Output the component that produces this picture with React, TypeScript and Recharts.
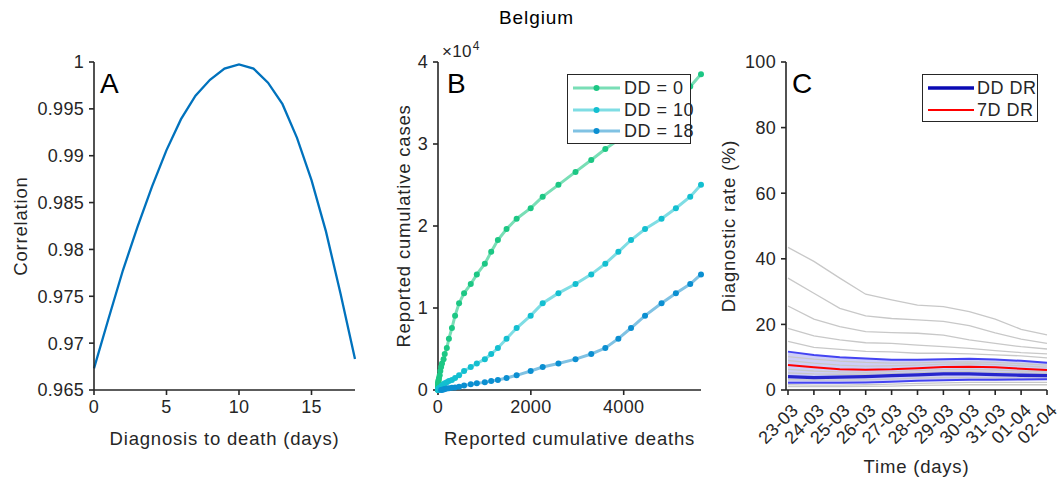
import React from "react";
import { LineChart, Line, ComposedChart, Area, XAxis, YAxis, Legend, Label } from "recharts";

const FONT = '"Liberation Sans", Arial, Helvetica, sans-serif';
const INK = "#262626";

// Panel A: correlation vs diagnosis-to-death delay
const lagDays = [0, 1, 2, 3, 4, 5, 6, 7, 8, 9, 10, 11, 12, 13, 14, 15, 16, 17, 18];
const correlation = [
  0.9673, 0.9726, 0.9778, 0.9824, 0.9867, 0.9906, 0.9939, 0.9964, 0.9981, 0.9993,
  0.99975, 0.9993, 0.9978, 0.9955, 0.9919, 0.9874, 0.9819, 0.9753, 0.9683,
];
const corrTicks = [0.965, 0.97, 0.975, 0.98, 0.985, 0.99, 0.995, 1];

// Panel B: daily cumulative series (chronological)
const cumDeaths = [
  0, 0, 0, 0, 0, 0, 0, 0, 3, 3, 3, 4, 5, 10, 14, 21, 37, 50, 67, 86, 120, 145, 190, 235,
  300, 368, 454, 562, 706, 836, 1009, 1146, 1290, 1477, 1694, 1996, 2255, 2594, 2962, 3301,
  3604, 3885, 4158, 4460, 4815, 5124, 5433, 5665,
];
const cumCases = [
  8, 23, 50, 110, 170, 200, 260, 310, 400, 560, 690, 810, 930, 1090, 1220, 1460, 1790, 2320,
  2810, 3230, 3760, 4390, 5120, 6260, 7560, 9070, 10580, 11810, 12920, 14100, 15400, 16850,
  18290, 19630, 20890, 22170, 23580, 25020, 26600, 28050, 29390, 30500, 31700, 33000, 34400,
  35700, 37000, 38500,
];
const delays = [0, 10, 18];
const delayMarker = ["#1cc784", "#13bfd0", "#0b8fd1"];
const delayLine = ["#79deb6", "#7fdde4", "#80c2e3"];

// Panel C: diagnostic rate
const dates = ["23-03", "24-03", "25-03", "26-03", "27-03", "28-03", "29-03", "30-03", "31-03", "01-04", "02-04"];
const greyRates = [
  [43.5, 39.2, 34.1, 29.2, 27.5, 25.9, 25.4, 23.9, 21.6, 18.5, 16.8],
  [34.1, 29.5, 24.9, 22.6, 21.8, 21.4, 20.9, 19.6, 17.4, 15.5, 14.2],
  [25.6, 21.6, 19.3, 17.8, 17.5, 17.3, 16.7, 15.3, 14.2, 13.2, 12.5],
  [18.8, 16.5, 15.3, 14.4, 14.2, 13.7, 13.2, 12.7, 12.0, 11.4, 11.0],
  [14.8, 13.0, 12.4, 11.8, 11.6, 11.2, 11.2, 11.0, 10.7, 10.4, 9.8],
  [10.2, 9.4, 8.8, 8.4, 8.2, 8.3, 8.5, 8.6, 8.4, 8.0, 7.6],
  [9.0, 8.2, 7.6, 7.3, 7.4, 7.6, 7.9, 8.0, 7.8, 7.4, 7.0],
  [6.3, 5.8, 5.5, 5.4, 5.6, 5.9, 6.2, 6.3, 6.1, 5.8, 5.5],
  [5.2, 4.9, 4.8, 4.8, 5.0, 5.3, 5.5, 5.6, 5.4, 5.2, 5.0],
  [3.2, 3.0, 3.0, 3.1, 3.3, 3.6, 3.8, 3.8, 3.7, 3.6, 3.5],
  [1.6, 1.5, 1.5, 1.6, 1.8, 2.0, 2.2, 2.3, 2.3, 2.3, 2.3],
  [1.0, 1.0, 1.0, 1.1, 1.2, 1.4, 1.5, 1.6, 1.6, 1.6, 1.6],
];
const bandHigh = [11.7, 10.7, 10.0, 9.6, 9.2, 9.2, 9.4, 9.5, 9.3, 8.9, 8.3];
const bandLow = [2.2, 2.2, 2.2, 2.3, 2.5, 2.8, 3.0, 3.1, 3.1, 3.2, 3.3];
const ddRate = [4.1, 3.8, 3.9, 4.1, 4.4, 4.6, 4.9, 4.9, 4.7, 4.5, 4.4];
const sevenDayRate = [7.6, 6.9, 6.3, 6.2, 6.3, 6.6, 7.0, 7.1, 6.9, 6.5, 6.1];

const corrData = lagDays.map((d, i) => ({ lag: d, r: correlation[i] }));

const delaySeries = delays.map((dd) => {
  const pts: { x: number; y: number }[] = [];
  for (let t = dd; t < cumDeaths.length; t++) pts.push({ x: cumDeaths[t], y: cumCases[t - dd] });
  return pts;
});

const rateData = dates.map((d, i) => {
  const row: any = { date: d, band: [bandLow[i], bandHigh[i]], hi: bandHigh[i], lo: bandLow[i], dd: ddRate[i], d7: sevenDayRate[i] };
  greyRates.forEach((g, k) => (row["g" + k] = g[i]));
  return row;
});

const tickStyle = { fontSize: 18, fill: INK, letterSpacing: 0.3 };
const axisStroke = { stroke: INK, strokeWidth: 1.6 };

const yTitle = (text: string, x: number) => (props: any) => {
  const cy = props.viewBox.y + props.viewBox.height / 2;
  return (
    <text x={x} y={cy} transform={`rotate(-90 ${x} ${cy})`} textAnchor="middle" fontSize={18.5} fill={INK} letterSpacing={0.8}>
      {text}
    </text>
  );
};
const xTitle = (text: string, x: number, y: number) => () => (
  <text x={x} y={y} textAnchor="middle" fontSize={18.5} fill={INK} letterSpacing={0.8}>
    {text}
  </text>
);

const DateTick = (props: any) => {
  const { x, y, payload } = props;
  const ax = x + 8;
  const ay = y + 13;
  return (
    <text x={ax} y={ay} transform={`rotate(-45 ${ax} ${ay})`} textAnchor="end" dominantBaseline="middle" fontSize={18} fill={INK} letterSpacing={0.3}>
      {payload.value}
    </text>
  );
};

const rowStyle: React.CSSProperties = { display: "flex", alignItems: "center", height: 21.5, whiteSpace: "nowrap" };
const legendText: React.CSSProperties = { fontSize: 18, color: INK, letterSpacing: 0.5, whiteSpace: "nowrap", lineHeight: "20px" };

const delayLegend = () => (
  <div style={{ width: 124, height: 70, border: `1.6px solid ${INK}`, background: "#fff", boxSizing: "border-box", paddingTop: 2.5 }}>
    {delays.map((dd, i) => (
      <div key={dd} style={rowStyle}>
        <svg width={50} height={10} style={{ marginLeft: 4, flexShrink: 0 }}>
          <line x1={1} y1={5} x2={48} y2={5} stroke={delayLine[i]} strokeWidth={3} />
          <circle cx={24.5} cy={5} r={3} fill={delayMarker[i]} />
        </svg>
        <span style={{ ...legendText, marginLeft: 2 }}>DD = {dd}</span>
      </div>
    ))}
  </div>
);

const rateLegend = () => (
  <div style={{ width: 116, height: 48, border: `1.6px solid ${INK}`, background: "#fff", boxSizing: "border-box", paddingTop: 2.5 }}>
    {[
      { name: "DD DR", color: "#0a0ab4", w: 3.5 },
      { name: "7D DR", color: "#ff0000", w: 2 },
    ].map((s) => (
      <div key={s.name} style={rowStyle}>
        <svg width={48} height={10} style={{ marginLeft: 4, flexShrink: 0 }}>
          <line x1={1} y1={5} x2={47} y2={5} stroke={s.color} strokeWidth={s.w} />
        </svg>
        <span style={{ ...legendText, marginLeft: 2 }}>{s.name}</span>
      </div>
    ))}
  </div>
);

const panelLetter = (t: string, left: number) => (
  <div style={{ position: "absolute", left, top: 68, fontSize: 28, color: "#000", lineHeight: "32px" }}>{t}</div>
);

export default function App() {
  return (
    <div style={{ position: "absolute", left: 0, top: 0, width: 1062, height: 482, background: "#fff", fontFamily: FONT }}>
      <div style={{ position: "absolute", left: 499, top: 7, fontSize: 19, color: "#000", letterSpacing: 0.9 }}>Belgium</div>

      {/* A */}
      <div style={{ position: "absolute", left: 0, top: 0 }}>
        <LineChart width={370} height={482} data={corrData} margin={{ top: 62, right: 15, bottom: 0, left: 0 }}>
          <XAxis dataKey="lag" type="number" domain={[0, 18]} ticks={[0, 5, 10, 15]} height={92} tick={tickStyle} tickSize={5} tickMargin={5} axisLine={axisStroke} tickLine={axisStroke}>
            <Label content={xTitle("Diagnosis to death (days)", 224.5, 445)} />
          </XAxis>
          <YAxis domain={[0.965, 1]} ticks={corrTicks} width={94} tick={tickStyle} tickSize={5} tickMargin={5} axisLine={axisStroke} tickLine={axisStroke} tickFormatter={(v: number) => String(Number(v.toFixed(3)))}>
            <Label content={yTitle("Correlation", 27)} />
          </YAxis>
          <Line dataKey="r" stroke="#0072bd" strokeWidth={2.3} dot={false} isAnimationActive={false} />
        </LineChart>
      </div>

      {/* B */}
      <div style={{ position: "absolute", left: 370, top: 0 }}>
        <LineChart width={340} height={482} margin={{ top: 62, right: 9, bottom: 0, left: 0 }}>
          <XAxis dataKey="x" type="number" domain={[0, "dataMax"]} ticks={[0, 2000, 4000]} height={92} tick={tickStyle} tickSize={5} tickMargin={5} axisLine={axisStroke} tickLine={axisStroke}>
            <Label content={xTitle("Reported cumulative deaths", 199.5, 445)} />
          </XAxis>
          <YAxis dataKey="y" type="number" domain={[0, 40000]} ticks={[0, 10000, 20000, 30000, 40000]} width={68} tick={tickStyle} tickSize={5} tickMargin={5} axisLine={axisStroke} tickLine={axisStroke} tickFormatter={(v: number) => String(v / 10000)}>
            <Label content={yTitle("Reported cumulative cases", 40)} />
          </YAxis>
          {delays.map((dd, i) => (
            <Line
              key={dd}
              data={delaySeries[i]}
              dataKey="y"
              name={`DD = ${dd}`}
              stroke={delayLine[i]}
              strokeWidth={3}
              dot={{ r: 3, fill: delayMarker[i], stroke: "none" }}
              activeDot={false}
              isAnimationActive={false}
            />
          ))}
          <Legend layout="horizontal" verticalAlign="middle" align="center" content={delayLegend} wrapperStyle={{ left: 197, top: 74, width: 124, height: 70 }} />
        </LineChart>
      </div>
      <div style={{ position: "absolute", left: 442, top: 42, fontSize: 17, color: INK, letterSpacing: 0.3, lineHeight: "20px", whiteSpace: "nowrap" }}>
        ×10<span style={{ fontSize: 12, position: "relative", top: -7, marginLeft: 1 }}>4</span>
      </div>

      {/* C */}
      <div style={{ position: "absolute", left: 710, top: 0 }}>
        <ComposedChart width={352} height={482} data={rateData} margin={{ top: 62, right: 15, bottom: 0, left: 0 }}>
          <XAxis dataKey="date" type="category" interval={0} padding={{ left: 2, right: 0 }} height={92} tick={<DateTick />} tickSize={5} tickMargin={0} axisLine={axisStroke} tickLine={axisStroke}>
            <Label content={xTitle("Time (days)", 206.5, 473)} />
          </XAxis>
          <YAxis domain={[0, 100]} ticks={[0, 20, 40, 60, 80, 100]} width={76} tick={tickStyle} tickSize={5} tickMargin={5} axisLine={axisStroke} tickLine={axisStroke}>
            <Label content={yTitle("Diagnostic rate (%)", 25)} />
          </YAxis>
          {greyRates.map((_, k) => (
            <Line key={k} dataKey={"g" + k} stroke="#c8c8c8" strokeWidth={1.3} dot={false} activeDot={false} isAnimationActive={false} />
          ))}
          <Area dataKey="band" stroke="none" fill="#2020e0" fillOpacity={0.22} isAnimationActive={false} activeDot={false} />
          <Line dataKey="hi" stroke="#4444f2" strokeWidth={2} dot={false} activeDot={false} isAnimationActive={false} />
          <Line dataKey="lo" stroke="#4444f2" strokeWidth={2} dot={false} activeDot={false} isAnimationActive={false} />
          <Line dataKey="dd" stroke="#2626cc" strokeWidth={3.3} dot={false} activeDot={false} isAnimationActive={false} />
          <Line dataKey="d7" stroke="#ff0000" strokeWidth={2} dot={false} activeDot={false} isAnimationActive={false} />
          <Legend layout="horizontal" verticalAlign="middle" align="center" content={rateLegend} wrapperStyle={{ left: 212, top: 74, width: 116, height: 48 }} />
        </ComposedChart>
      </div>

      {panelLetter("A", 100)}
      {panelLetter("B", 447)}
      {panelLetter("C", 792)}
    </div>
  );
}
